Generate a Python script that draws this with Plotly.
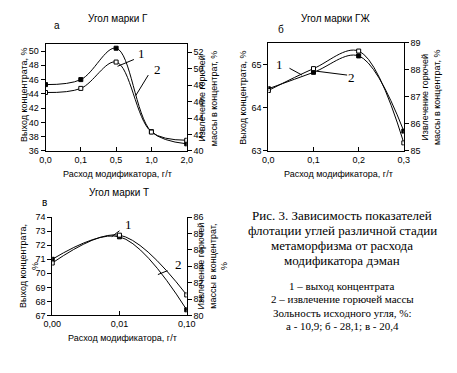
import plotly.graph_objects as go

W, H = 457, 373

# ---- data ----
cats_a = ["0,0", "0,1", "0,5", "1,0", "2,0"]
yield_a = [45.3, 46.0, 50.4, 38.7, 37.0]
extr_a = [47.1, 47.6, 50.8, 42.3, 41.3]

x_b = [0.0, 0.1, 0.2, 0.3]
yield_b = [64.44, 64.82, 65.2, 63.46]
extr_b = [87.24, 88.05, 88.7, 85.3]

cats_c = ["0,00", "0,01", "0,10"]
yield_c = [71.0, 72.6, 67.4]
extr_c = [83.2, 84.9, 81.25]


def fx(px):
    return px / W


def fy(py):
    return 1 - py / H


FONT = "Liberation Sans"
SERIF = "Liberation Serif"

fig = go.Figure()

line = dict(color="black", width=1, shape="spline", smoothing=1)
m_fill = dict(symbol="square", size=4, color="black", line=dict(color="black", width=1))
m_open = dict(symbol="square", size=4, color="white", line=dict(color="black", width=1))

# a
fig.add_trace(go.Scatter(x=cats_a, y=yield_a, mode="lines+markers", line=line, marker=m_fill, xaxis="x", yaxis="y"))
fig.add_trace(go.Scatter(x=cats_a, y=extr_a, mode="lines+markers", line=line, marker=m_open, xaxis="x", yaxis="y2"))
# b
fig.add_trace(go.Scatter(x=x_b, y=yield_b, mode="lines+markers", line=line, marker=m_fill, xaxis="x2", yaxis="y3"))
fig.add_trace(go.Scatter(x=x_b, y=extr_b, mode="lines+markers", line=line, marker=m_open, xaxis="x2", yaxis="y4"))
# c
fig.add_trace(go.Scatter(x=cats_c, y=yield_c, mode="lines+markers", line=line, marker=m_fill, xaxis="x3", yaxis="y5"))
fig.add_trace(go.Scatter(x=cats_c, y=extr_c, mode="lines+markers", line=line, marker=m_open, xaxis="x3", yaxis="y6"))

tickfont = dict(family=FONT, size=9, color="black")
common = dict(showline=True, linecolor="black", linewidth=1, ticklen=4,
              tickcolor="black", tickfont=tickfont, showgrid=False, zeroline=False)
ycommon = dict(**common, ticks="outside")
xcommon = dict(**common, ticks="inside")

A = dict(x0=38, x1=185, y0=40, y1=150)
B = dict(x0=270, x1=411, y0=39, y1=150)
C = dict(x0=45, x1=185, y0=218, y1=319)


def dom_x(d):
    return [fx(d["x0"]), fx(d["x1"])]


def dom_y(d):
    return [fy(d["y1"]), fy(d["y0"])]


fig.update_layout(
    width=W, height=H,
    margin=dict(l=0, r=0, t=0, b=0),
    paper_bgcolor="white", plot_bgcolor="white",
    showlegend=False,
    separators=", ",
    xaxis=dict(**xcommon, domain=dom_x(A), anchor="y", type="category", range=[0, 4], mirror=True),
    yaxis=dict(**ycommon, domain=dom_y(A), anchor="x", range=[36, 51], tickvals=list(range(36, 51, 2))),
    yaxis2=dict(**ycommon, overlaying="y", side="right", anchor="x", range=[40, 53],
                tickvals=list(range(40, 53, 2))),
    xaxis2=dict(**xcommon, domain=dom_x(B), anchor="y3", range=[0, 0.3], tickvals=x_b,
                tickformat=".1f", mirror=True),
    yaxis3=dict(**ycommon, domain=dom_y(B), anchor="x2", range=[63, 65.5], tickvals=[63, 64, 65]),
    yaxis4=dict(**ycommon, overlaying="y3", side="right", anchor="x2", range=[85, 89],
                tickvals=[85, 86, 87, 88, 89]),
    xaxis3=dict(**xcommon, domain=dom_x(C), anchor="y5", type="category", range=[0, 2]),
    yaxis5=dict(**ycommon, domain=dom_y(C), anchor="x3", range=[67, 74], tickvals=list(range(67, 75))),
    yaxis6=dict(**ycommon, overlaying="y5", side="right", anchor="x3", range=[80, 86],
                tickvals=list(range(80, 87))),
)

ann = []


def txt(x, y, s, size=9, family=FONT, angle=0):
    ann.append(dict(x=fx(x), y=fy(y), xref="paper", yref="paper", text=s, showarrow=False,
                    textangle=angle, xanchor="center", yanchor="middle",
                    font=dict(family=family, size=size, color="black")))


# titles
txt(113, 14, "Угол марки Г", 10)
txt(50, 21, "а", 10)
txt(340, 14, "Угол марки ГЖ", 10)
txt(283, 25, "б", 10)
txt(115, 193, "Угол марки Т", 10)
txt(37, 203, "в", 10)

# axis titles
txt(15, 92, "Выход концентрата, %", 9, angle=-90)
txt(208, 96, "Извлечение горючей<br>массы в концентрат, %", 9, angle=-90)
txt(113, 174, "Расход модификатора, г/т", 9)

txt(244, 95, "Выход концентрата, %", 9, angle=-90)
txt(440, 95, "Извлечение горючей<br>массы в концентрат, %", 9, angle=-90)
txt(343, 174, "Расход модификатора, г/т", 9)

txt(21, 268, "Выход концентрата,<br>%", 9, angle=-90)
txt(212, 268, "Извлечение горючей<br>массы в концентрат,<br>%", 9, angle=-90)
txt(118, 342, "Расход модификатора, г/т", 9)

# curve labels
txt(138, 50, "1", 13, SERIF)
txt(155, 66, "2", 13, SERIF)
txt(282, 61, "1", 13, SERIF)
txt(357, 75, "2", 13, SERIF)
txt(124, 226, "1", 13, SERIF)
txt(176, 267, "2", 13, SERIF)

# caption
cap1 = ["Рис. 3. Зависимость показателей", "флотации углей различной стадии",
        "метаморфизма от расхода", "модификатора дэман"]
for i, s in enumerate(cap1):
    txt(347, 216 + i * 15.5, s, 13, SERIF)
cap2 = ["1 – выход концентрата", "2 – извлечение горючей массы",
        "Зольность исходного угля, %:", "а - 10,9; б - 28,1; в - 20,4"]
for i, s in enumerate(cap2):
    txt(347, 289 + i * 13.5, s, 11, SERIF)

fig.update_layout(annotations=ann)

# leader lines
leaders = [((130, 56), (113, 63)), ((145, 72), (132, 93)),
           ((292, 65), (305, 72)), ((352, 72), (320, 68)),
           ((115, 232), (107, 238)), ((165, 273), (155, 277))]
shapes = []
for (x0, y0), (x1, y1) in leaders:
    shapes.append(dict(type="line", xref="paper", yref="paper", x0=fx(x0), y0=fy(y0),
                       x1=fx(x1), y1=fy(y1), line=dict(color="black", width=1)))
fig.update_layout(shapes=shapes)

fig.write_html("out.html", config={"displayModeBar": False},
               post_script="document.body.style.margin='0';")
